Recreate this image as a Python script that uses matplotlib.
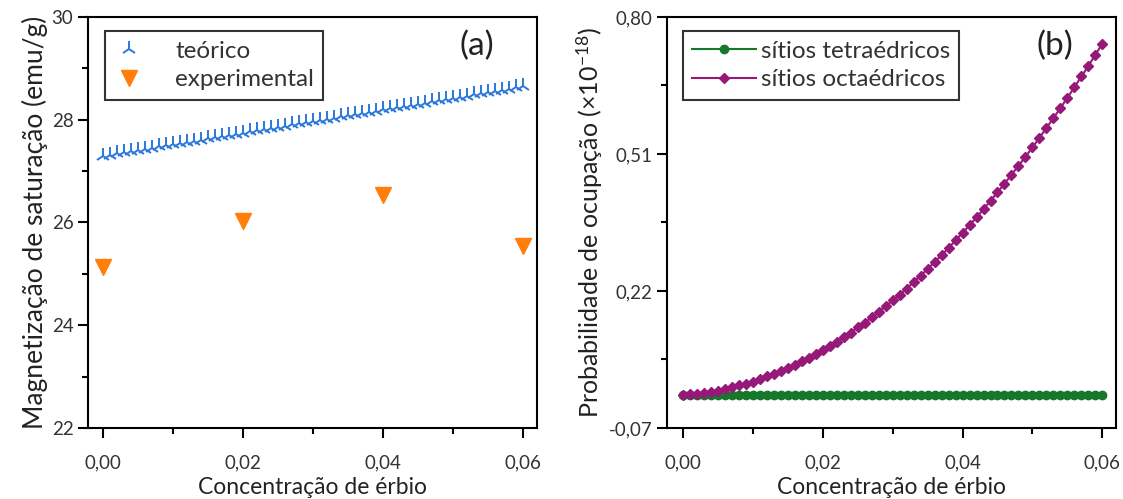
import matplotlib
matplotlib.use("Agg")
import matplotlib.pyplot as plt
from matplotlib.ticker import MultipleLocator, FixedLocator

# === DATA ===
conc = [i * 0.001 for i in range(61)]

teorico = [
    27.300, 27.323, 27.345, 27.368, 27.390, 27.413, 27.435, 27.458, 27.480, 27.503,
    27.525, 27.548, 27.570, 27.593, 27.615, 27.638, 27.660, 27.683, 27.705, 27.728,
    27.750, 27.773, 27.795, 27.818, 27.840, 27.863, 27.885, 27.908, 27.930, 27.953,
    27.975, 27.998, 28.020, 28.043, 28.065, 28.088, 28.110, 28.133, 28.155, 28.178,
    28.200, 28.223, 28.245, 28.268, 28.290, 28.313, 28.335, 28.358, 28.380, 28.403,
    28.425, 28.448, 28.470, 28.493, 28.515, 28.538, 28.560, 28.583, 28.605, 28.628,
    28.650,
]

exp_conc = [0.00, 0.02, 0.04, 0.06]
experimental = [25.13, 26.03, 26.54, 25.54]

tetra = [0.0] * 61
octa = [
    0.000, 0.001, 0.003, 0.005, 0.007, 0.009, 0.012, 0.016, 0.020, 0.024,
    0.028, 0.033, 0.039, 0.044, 0.050, 0.057, 0.064, 0.071, 0.079, 0.087,
    0.095, 0.104, 0.113, 0.122, 0.132, 0.143, 0.153, 0.164, 0.176, 0.188,
    0.200, 0.212, 0.225, 0.239, 0.252, 0.267, 0.281, 0.296, 0.311, 0.327,
    0.343, 0.359, 0.376, 0.393, 0.411, 0.429, 0.447, 0.466, 0.485, 0.504,
    0.524, 0.544, 0.565, 0.586, 0.607, 0.629, 0.651, 0.674, 0.696, 0.720,
    0.743,
]

xticks = [0.00, 0.02, 0.04, 0.06]
xticklabels = ["0,00", "0,02", "0,04", "0,06"]
yticks_a = [22, 24, 26, 28, 30]
yticks_b = [-0.07, 0.22, 0.51, 0.80]
yticklabels_b = ["-0,07", "0,22", "0,51", "0,80"]

# === STYLE ===
plt.rcParams['font.family'] = ['Lato', 'DejaVu Sans']
plt.rcParams['mathtext.fontset'] = 'custom'
plt.rcParams['mathtext.rm'] = 'Lato'
plt.rcParams['mathtext.it'] = 'Lato:italic'

BLUE = '#2a78dc'
ORANGE = '#ff7f0a'
GREEN = '#17782c'
PURPLE = '#961878'
TEXT = '#222222'

fig = plt.figure(figsize=(11.23, 4.99), dpi=100)
ax1 = fig.add_axes([0.0784, 0.1423, 0.400, 0.8237])
ax2 = fig.add_axes([0.594, 0.1423, 0.400, 0.8237])


def style_axes(ax):
    for s in ax.spines.values():
        s.set_linewidth(1.5)
    ax.tick_params(which='major', direction='out', length=7, width=1.5, labelsize=13.5)
    ax.tick_params(which='minor', direction='out', length=4.5, width=1.5)
    ax.tick_params(axis='both', labelcolor='#333333')
    ax.tick_params(axis='x', which='major', pad=12)
    ax.set_xticks(xticks, xticklabels)
    ax.xaxis.set_minor_locator(FixedLocator([0.01, 0.03, 0.05]))
    ax.set_xlabel('Concentração de érbio', fontsize=16.5, color=TEXT, labelpad=4)


def style_legend(leg):
    leg.get_frame().set_linewidth(1.5)
    for t in leg.get_texts():
        t.set_color('#333333')


# --- (a) ---
ax1.plot(conc, teorico, linestyle='none', marker='2', markersize=11, markeredgewidth=1.4,
         color=BLUE, label='teórico')
ax1.plot(exp_conc, experimental, linestyle='none', marker='v', markersize=11,
         color=ORANGE, markeredgecolor=ORANGE, label='experimental')
ax1.set_xlim(-0.00214, 0.062)
ax1.set_ylim(22, 30)
style_axes(ax1)
ax1.set_yticks(yticks_a)
ax1.yaxis.set_minor_locator(MultipleLocator(1))
ax1.set_ylabel('Magnetização de saturação (emu/g)', fontsize=19, color=TEXT, labelpad=3)
leg1 = ax1.legend(loc='upper left', bbox_to_anchor=(0.038, 0.965), fontsize=17.5, frameon=True,
                  fancybox=False, edgecolor='black', handlelength=1.2, handletextpad=1.3,
                  borderpad=0.38, labelspacing=0.32, borderaxespad=0)
style_legend(leg1)
ax1.text(0.866, 0.93, '(a)', transform=ax1.transAxes, fontsize=24, ha='center', va='center',
         color=TEXT)

# --- (b) ---
ax2.plot(conc, tetra, color=GREEN, marker='o', markersize=6, linewidth=1.5, label='sítios tetraédricos')
ax2.plot(conc, octa, color=PURPLE, marker='D', markersize=5.5, linewidth=1.5, label='sítios octaédricos')
ax2.set_xlim(-0.0023, 0.062)
ax2.set_ylim(-0.07, 0.80)
style_axes(ax2)
ax2.set_yticks(yticks_b, yticklabels_b)
ax2.yaxis.set_minor_locator(FixedLocator([0.075, 0.365, 0.655]))
ax2.set_ylabel('Probabilidade de ocupação (×10$^{-18}$)', fontsize=18, color=TEXT, labelpad=3)
leg2 = ax2.legend(loc='upper left', bbox_to_anchor=(0.036, 0.965), fontsize=17.5, frameon=True,
                  fancybox=False, edgecolor='black', handlelength=2.6, handletextpad=0.2,
                  borderpad=0.38, labelspacing=0.32, borderaxespad=0)
style_legend(leg2)
ax2.text(0.864, 0.93, '(b)', transform=ax2.transAxes, fontsize=24, ha='center', va='center',
         color=TEXT)

fig.savefig('out.png', dpi=100)
